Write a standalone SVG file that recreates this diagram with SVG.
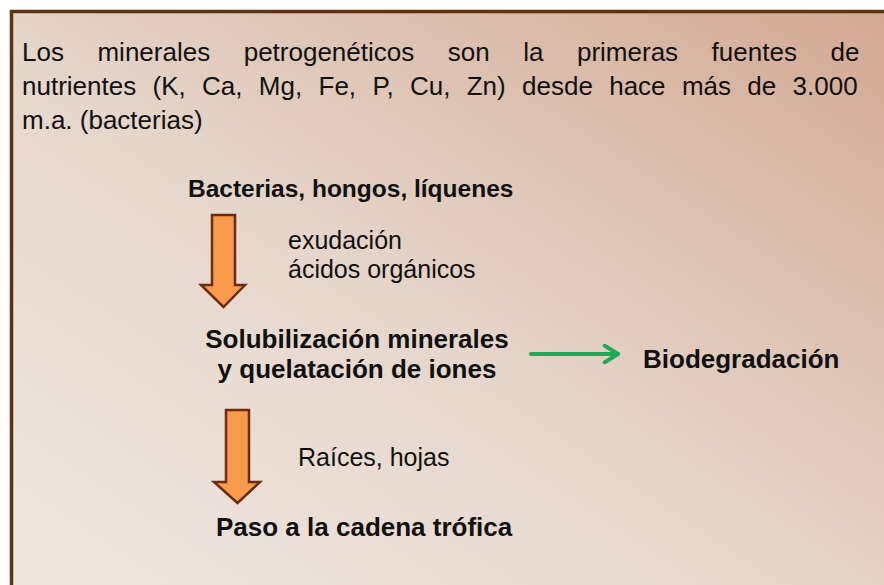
<svg xmlns="http://www.w3.org/2000/svg" width="884" height="585" viewBox="0 0 884 585">
<defs>
<linearGradient id="bg" x1="0" y1="1" x2="1" y2="0">
<stop offset="0" stop-color="#efe7e0"/>
<stop offset="0.45" stop-color="#e6d7cc"/>
<stop offset="1" stop-color="#d3a892"/>
</linearGradient>
<marker id="chev" viewBox="0 0 12 12" refX="10" refY="6" markerWidth="5" markerHeight="5" orient="auto" markerUnits="strokeWidth">
<path d="M2,1 L10,6 L2,11" fill="none" stroke="#1daa55" stroke-width="2.4" stroke-linecap="round" stroke-linejoin="round"/>
</marker>
<style>
.t{font-family:"Liberation Sans",Arial,sans-serif;font-size:26px;fill:#111;}
.b{font-family:"Liberation Sans",Arial,sans-serif;font-size:26px;font-weight:bold;fill:#111;}
.big{fill:#f79a4c;stroke:#6e2a12;stroke-width:2.5;stroke-linejoin:miter;}
.green{stroke:#1daa55;stroke-width:4;fill:none;stroke-linecap:round;}
</style>
</defs>
<rect x="0" y="0" width="884" height="585" fill="#ffffff"/>
<rect x="11.5" y="11.5" width="880" height="580" fill="url(#bg)" stroke="#5c3310" stroke-width="3.5"/>
<g id="intro">
<text class="t" x="22" y="61" word-spacing="26.3">Los minerales petrogenéticos son la primeras fuentes de</text>
<text class="t" x="22" y="95" word-spacing="9.1">nutrientes (K, Ca, Mg, Fe, P, Cu, Zn) desde hace más de 3.000</text>
<text class="t" x="22" y="129">m.a. (bacterias)</text>
</g>
<g id="bacterias">
<text class="b" x="188" y="197" style="font-size:24.5px">Bacterias, hongos, líquenes</text>
</g>
<g id="solubilizacion">
<text class="b" x="357" y="348" text-anchor="middle">Solubilización minerales</text>
<text class="b" x="357" y="378" text-anchor="middle">y quelatación de iones</text>
</g>
<g id="biodegradacion">
<text class="b" x="643" y="368">Biodegradación</text>
</g>
<g id="cadena">
<text class="b" x="216" y="536">Paso a la cadena trófica</text>
</g>
<g id="connectors">
<polygon class="big" points="212,215 235,215 235,285 245,285 223.5,307 201,285 212,285"/>
<text class="t" x="288" y="249" style="font-size:25px">exudación</text>
<text class="t" x="288" y="278" style="font-size:25px">ácidos orgánicos</text>
<polygon class="big" points="226,410 249,410 249,482 260,482 237.5,503 214,482 226,482"/>
<text class="t" x="298" y="466" style="font-size:25px">Raíces, hojas</text>
<line class="green" x1="531" y1="354" x2="618" y2="354" marker-end="url(#chev)"/>
</g>
</svg>
